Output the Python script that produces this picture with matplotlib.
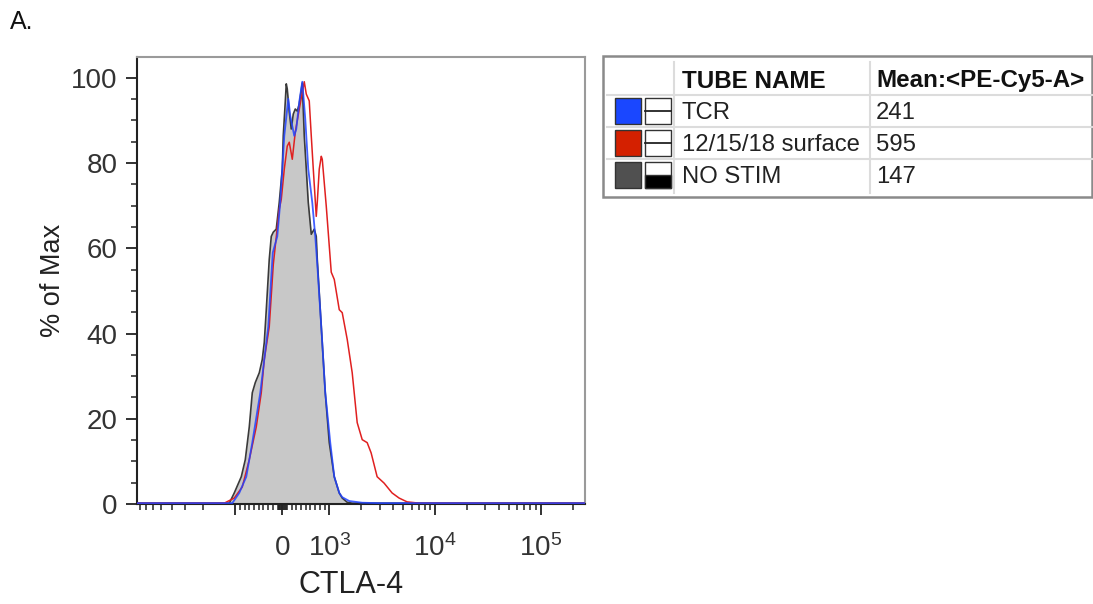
import numpy as np
import matplotlib
matplotlib.use("Agg")
import matplotlib.pyplot as plt
from matplotlib.patches import Rectangle

plt.rcParams['font.family'] = ['Liberation Sans', 'DejaVu Sans']
plt.rcParams['mathtext.fontset'] = 'custom'
plt.rcParams['mathtext.rm'] = 'Liberation Sans'
plt.rcParams['mathtext.it'] = 'Liberation Sans:italic'
plt.rcParams['mathtext.bf'] = 'Liberation Sans:bold'

# ---------------- data (CTLA-4 fluorescence, % of max) ----------------
XMIN, XMAX = -8500, 262144

nostim_x = [-8500, -1270, -1139, -1022, -872, -787, -702, -638, -574, -489, -426, -383,
            -340, -277, -234, -191, -128, -64, 0, 21, 64, 85, 106, 149, 191, 234, 277,
            319, 362, 426, 468, 511, 553, 617, 681, 723, 745, 830, 915, 1000, 1115,
            1243, 1326, 1479, 1648, 262144]
nostim_y = [0.2, 0.2, 0.2, 2.6, 6.4, 10.4, 18.1, 26.1, 28.5, 30.8, 33.9, 37.9,
            45.6, 57.4, 62.8, 63.8, 64.5, 70.8, 78.6, 86.4, 94.4, 98.6, 97.4, 92.0, 88.0, 91.5, 92.7,
            92.2, 93.9, 98.8, 86.4, 78.6, 70.8, 63.3, 64.5, 62.8, 57.4, 41.6, 26.1, 14.4, 6.4,
            2.6, 1.4, 0.4, 0.2, 0.2]

tcr_x = [-8500, -1067, -915, -766, -638, -468, -383, -298, -202, -106, -43, 0, 43, 128,
         170, 255, 298, 362, 426, 489, 553, 638, 702, 745, 830, 915, 1022, 1115, 1243,
         1326, 1544, 2049, 2962, 262144]
tcr_y = [0.2, 0.2, 2.6, 6.4, 14.4, 26.1, 33.9, 41.6, 59.0, 62.8, 70.8, 78.6, 86.4, 95.1,
         91.1, 86.4, 88.0, 94.4, 99.1, 90.4, 78.6, 70.8, 62.8, 56.2, 41.6, 26.1, 14.4, 6.4, 2.6,
         1.6, 0.7, 0.3, 0.2, 0.2]

surf_x = [-8500, -1270, -1022, -851, -702, -553, -447, -383, -277, -191, -64, -21, 43, 106,
          149, 213, 277, 362, 468, 511, 574, 617, 660, 723, 745, 787, 830, 851, 936, 1044,
          1115, 1243, 1326, 1479, 1648, 1837, 2049, 2283, 2488, 2836, 3300, 3925, 4571,
          5443, 7060, 262144]
surf_y = [0.2, 0.2, 1.4, 4.0, 10.4, 18.1, 26.1, 33.9, 41.6, 56.2, 69.2, 71.5, 78.6, 84.0,
          84.9, 80.9, 87.3, 92.7, 99.1, 96.2, 94.6, 86.4, 78.6, 67.5, 70.8, 78.6, 81.6, 80.9, 69.9, 54.4,
          52.7, 45.6, 44.9, 38.6, 30.8, 19.1, 15.1, 14.4, 12.0, 6.4, 4.9, 2.6, 1.4,
          0.5, 0.2, 0.2]

tube_names = ['TCR', '12/15/18 surface', 'NO STIM']
mean_values = ['241', '595', '147']
swatch_colors = ['#1a47ff', '#d42000', '#505050']
header = ['TUBE NAME', 'Mean:<PE-Cy5-A>']

x_major = [-1000, 0, 1000, 10000, 100000]
x_major_labels = ['', '0', r'$\mathregular{10^3}$', r'$\mathregular{10^4}$', r'$\mathregular{10^5}$']
x_minor = ([-8000, -7000, -6000, -5000, -4000, -3000, -2000]
           + [-900, -800, -700, -600, -500, -400, -300, -200, -100, -80, -60, -40, -20,
              20, 40, 60, 80, 100, 200, 300, 400, 500, 600, 700, 800, 900]
           + [2000, 3000, 4000, 5000, 6000, 7000, 8000, 9000]
           + [20000, 30000, 40000, 50000, 60000, 70000, 80000, 90000, 200000])
y_major = [0, 20, 40, 60, 80, 100]
y_minor = [5, 10, 15, 25, 30, 35, 45, 50, 55, 65, 70, 75, 85, 90, 95]

# ---------------- figure ----------------
W, H = 1093, 604
fig = plt.figure(figsize=(W / 100, H / 100), dpi=100)
fig.patch.set_facecolor('white')

ax_l, ax_r, ax_t, ax_b = 137, 585, 57, 504
ax_w, ax_h = ax_r - ax_l, ax_b - ax_t
ax = fig.add_axes([ax_l / W, (H - ax_b) / H, ax_w / W, ax_h / H])
ax.set_xscale('symlog', linthresh=1000, linscale=0.4)
ax.set_xlim(XMIN, XMAX)
ax.set_ylim(0, 104.9)

ax.fill_between(nostim_x, 0, nostim_y, color='#c8c8c8', lw=0, zorder=1)
ax.plot(nostim_x, nostim_y, color='#3a3a3a', lw=1.2, zorder=2)
ax.plot(surf_x, surf_y, color='#e02020', lw=1.1, zorder=3)
ax.plot(tcr_x, tcr_y, color='#2244ff', lw=1.3, alpha=0.85, zorder=4)

ax.set_xticks(x_major)
ax.set_xticklabels(x_major_labels)
ax.set_xticks(x_minor, minor=True)
ax.set_yticks(y_major)
ax.set_yticks(y_minor, minor=True)

ax.tick_params(axis='both', which='major', direction='out', length=8, width=1.3,
               labelsize=20, color='#222222', labelcolor='#333333')
ax.tick_params(axis='both', which='minor', direction='out', length=4, width=1.1, color='#222222')
ax.tick_params(axis='x', which='major', pad=14)
ax.tick_params(axis='y', which='major', pad=6)

for s in ['left', 'bottom']:
    ax.spines[s].set_color('#222222')
    ax.spines[s].set_linewidth(1.5)
for s in ['top', 'right']:
    ax.spines[s].set_color('#9a9a9a')
    ax.spines[s].set_linewidth(1.5)

ax.set_ylabel('% of Max', fontsize=19.5, color='#222222')
ax.yaxis.set_label_coords((66 - ax_l) / ax_w, 0.5)
ax.set_xlabel('CTLA-4', fontsize=22, color='#222222')
ax.xaxis.set_label_coords((351 - ax_l) / ax_w, (ax_b - 570) / ax_h)

fig.text(10 / W, 1 - 22 / H, 'A.', fontsize=18, va='center', ha='left', color='#111111')

# ---------------- legend table ----------------
lg = fig.add_axes([0, 0, 1, 1])
lg.set_xlim(0, W)
lg.set_ylim(H, 0)
lg.axis('off')

box_l, box_t, box_r, box_b = 603, 56, 1092, 197
lg.add_patch(Rectangle((box_l, box_t), box_r - box_l, box_b - box_t, fill=False,
                       ec='#8a8a8a', lw=1.8))
hdr_b = 95
row_h = 32
grid_c = '#dcdcdc'
col1, col2 = 674, 870
for i in range(len(tube_names)):
    yline = hdr_b + i * row_h
    lg.plot([box_l + 4, box_r], [yline, yline], color=grid_c, lw=1.5)
lg.plot([col1, col1], [62, box_b - 4], color=grid_c, lw=1.5)
lg.plot([col2, col2], [62, box_b - 4], color=grid_c, lw=1.5)

lg.text(682, 81, header[0], fontsize=17.4, fontweight='bold', va='center', ha='left', color='#111111')
lg.text(876, 81, header[1], fontsize=17.4, fontweight='bold', va='center', ha='left', color='#111111')

for i, (name, mean, col) in enumerate(zip(tube_names, mean_values, swatch_colors)):
    top = hdr_b + i * row_h + 3
    hgt = row_h - 6
    yc = top + hgt / 2
    lg.add_patch(Rectangle((615, top), 26, hgt, fc=col, ec='#333333', lw=1.0))
    lg.add_patch(Rectangle((645, top), 26, hgt, fc='white', ec='#333333', lw=1.0))
    if i == len(tube_names) - 1:
        lg.add_patch(Rectangle((645, yc), 26, hgt / 2, fc='black', ec='#333333', lw=1.0))
    else:
        lg.plot([645, 671], [yc, yc], color='#222222', lw=1.3)
    lg.text(682, yc + 2, name, fontsize=17.2, va='center', ha='left', color='#222222')
    lg.text(876, yc + 2, mean, fontsize=17.2, va='center', ha='left', color='#222222')

fig.savefig('out.png', dpi=100, facecolor='white')
